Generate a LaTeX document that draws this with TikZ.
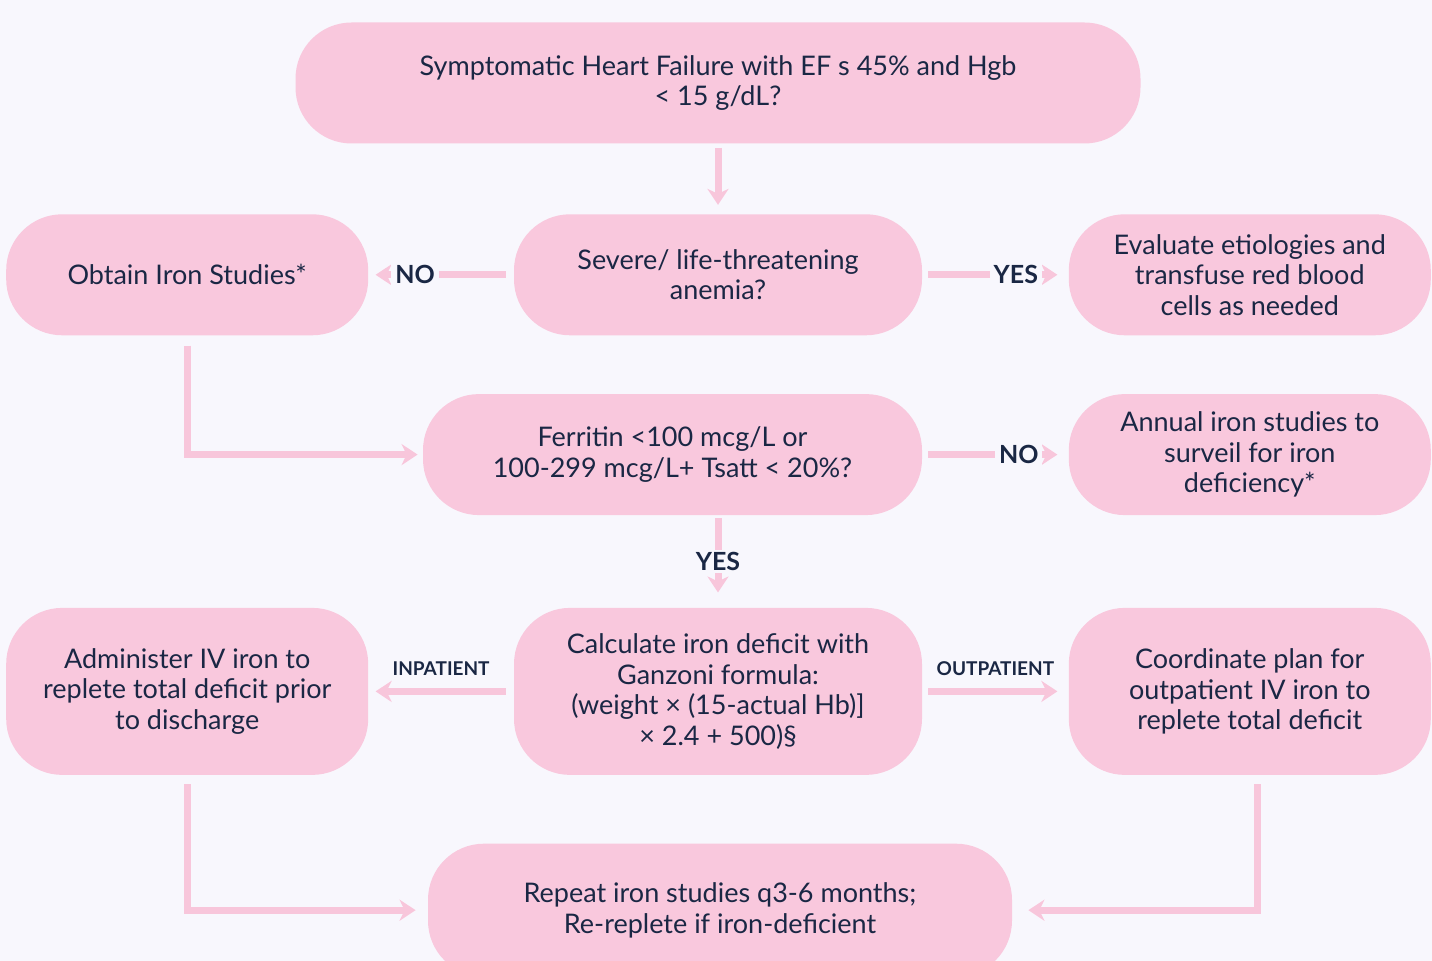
\documentclass[tikz,border=0pt]{standalone}
\usepackage{fontspec}
\setmainfont{Lato}
\usepackage{xcolor}
\definecolor{cPink}{HTML}{F9C8DD}
\definecolor{cArrow}{HTML}{F8C6DB}
\definecolor{cBg}{HTML}{F8F7FD}
\definecolor{cInk}{HTML}{1A2744}
\usepackage{tikz}
\usetikzlibrary{positioning,arrows.meta}
\tikzset{
  node-box/.style={fill=cPink,rounded corners=28pt,
    minimum height=60.5pt,minimum width=181pt,align=center,inner sep=2pt,
    text=cInk,font=\fontsize{13.5}{15.3}\selectfont},
  node-mid/.style={minimum width=204pt},
  node-tall/.style={minimum height=83.5pt},
  arrow/.style={-{Stealth[length=8pt,width=10.5pt,inset=2.5pt]},
    line width=3.5pt,draw=cArrow},
  lbl-big/.style={fill=cBg,inner xsep=2pt,inner ysep=1pt,text=cInk,
    font=\bfseries\fontsize{12.5}{14}\selectfont},
  lbl-small/.style={inner sep=1pt,text=cInk,
    font=\bfseries\fontsize{9.5}{11}\selectfont},
}

\begin{document}
\begin{tikzpicture}
  \fill[cBg] (0,0) rectangle (716pt,-480.5pt);
  \useasboundingbox (0,0) rectangle (716pt,-480.5pt);
  \clip (0,0) rectangle (716pt,-480.5pt);
  \node[node-box,minimum width=422.5pt] (top) at (359pt,-41.5pt)
    {Symptomatic Heart Failure with EF s 45\% and Hgb\\< 15 g/dL?};
  \node[node-box,node-mid,below=35pt of top]           (sev)  {Severe/ life-threatening\\anemia?};
  \node[node-box,left=72.5pt of sev]                   (obt)  {Obtain Iron Studies*};
  \node[node-box,right=73pt of sev]                    (eval) {Evaluate etiologies and\\transfuse red blood\\cells as needed};
  \node[node-box,minimum width=249.5pt,below=29pt of sev,xshift=-22.75pt] (fer)
    {Ferritin <100 mcg/L or\\100-299 mcg/L+ Tsatt < 20\%?};
  \node[node-box,right=73pt of fer]                    (ann)  {Annual iron studies to\\surveil for iron\\deficiency*};
  \node[node-box,node-mid,node-tall,below=46pt of fer,xshift=22.75pt] (calc)
    {Calculate iron deficit with\\Ganzoni formula:\\(weight × (15-actual Hb)]\\× 2.4 + 500)§};
  \node[node-box,node-tall,left=72.5pt of calc]        (adm)  {Administer IV iron to\\replete total deficit prior\\to discharge};
  \node[node-box,node-tall,right=73pt of calc]         (coord) {Coordinate plan for\\outpatient IV iron to\\replete total deficit};
  \node[node-box,minimum width=292pt,minimum height=66.5pt,below=34pt of calc,xshift=1pt] (rep)
    {Repeat iron studies q3-6 months;\\Re-replete if iron-deficient};
  % connectors
  \draw[arrow,shorten <=2pt,shorten >=4.5pt] (top) -- (sev);
  \draw[arrow,shorten <=4pt,shorten >=3.5pt] (sev) -- node[lbl-big,pos=0.68]{NO} (obt);
  \draw[arrow,shorten <=3pt,shorten >=5.5pt] (sev) -- node[lbl-big,pos=0.64]{YES} (eval);
  \draw[arrow,shorten <=5pt,shorten >=2.5pt] (obt) |- (fer);
  \draw[arrow,shorten <=3pt,shorten >=5.5pt] (fer) -- node[lbl-big,pos=0.66]{NO} (ann);
  \draw[arrow,shorten <=1.5pt,shorten >=7.5pt] (calc.north |- fer.south) -- node[lbl-big]{YES} (calc.north);
  \draw[arrow,shorten <=4pt,shorten >=3.5pt] (calc) -- node[lbl-small,above=5pt]{INPATIENT} (adm);
  \draw[arrow,shorten <=3pt,shorten >=5.5pt] (calc) -- node[lbl-small,above=5pt]{OUTPATIENT} (coord);
  \draw[arrow,shorten <=4.5pt,shorten >=6pt] (adm) |- (rep);
  \draw[arrow,shorten <=4.5pt,shorten >=8pt] ([xshift=4pt]coord.south) |- (rep);
\end{tikzpicture}
\end{document}
